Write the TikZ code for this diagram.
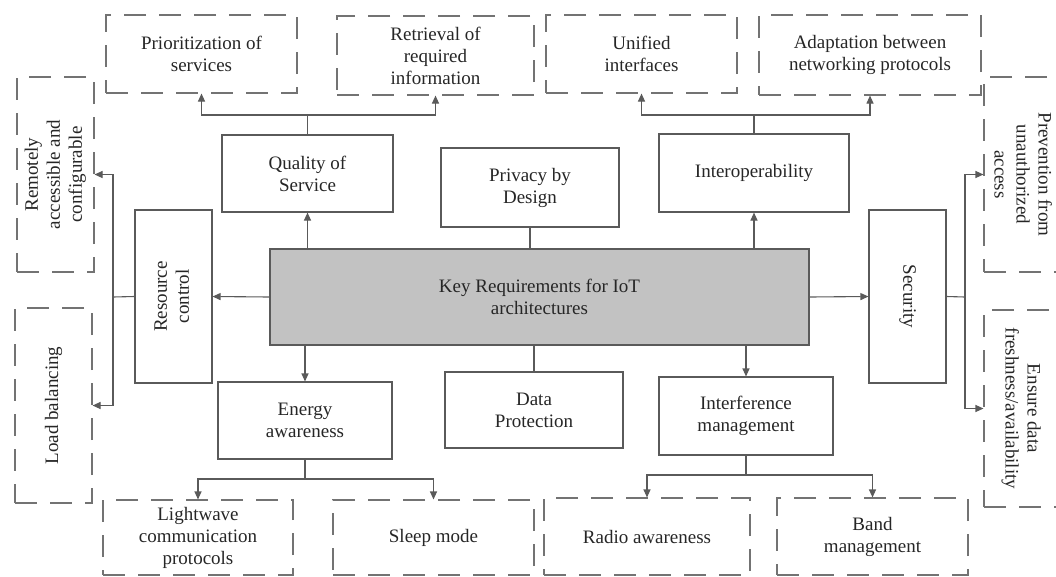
\documentclass[tikz,border=0pt]{standalone}
\usepackage{fontspec}
\setmainfont{Liberation Serif}
\usetikzlibrary{arrows.meta}
\definecolor{ln}{HTML}{5A5A5A}
\definecolor{tx}{HTML}{262626}
\definecolor{keyfill}{HTML}{C2C2C2}
\begin{document}
\begin{tikzpicture}[x=1pt,y=-1pt,
  every node/.style={font=\fontsize{19}{22}\selectfont, text=tx, inner sep=0pt, align=center},
  solidbox/.style={draw=ln, line width=1.1pt, fill=white},
  dashbox/.style={draw=ln!85, line width=1.1pt, dash pattern=on 22pt off 13pt},
  conn/.style={draw=ln, line width=1.1pt},
  arr/.style={conn, -{Triangle[length=8pt,width=7pt]}}]
\useasboundingbox (0,0) rectangle (1056,576);
% top dashed boxes
\node[dashbox, minimum width=191, minimum height=78] (prior) at (201.5,54) {Prioritization of\\services};
\node[dashbox, minimum width=197, minimum height=79] (retr) at (435.5,55.5) {Retrieval of\\required\\information};
\node[dashbox, minimum width=191, minimum height=78] (unif) at (641.5,54) {Unified\\interfaces};
\node[dashbox, minimum width=222, minimum height=80] (adapt) at (870,55) {Adaptation between\\networking protocols};
% side dashed boxes
\node[dashbox, minimum width=77, minimum height=195] (remote) at (55.5,174.5) {\rotatebox{90}{\begin{tabular}{@{}c@{}}Remotely\\accessible and\\configurable\end{tabular}}};
\node[dashbox, minimum width=77, minimum height=195] (load) at (53.5,405.5) {\rotatebox{90}{Load balancing}};
\node[dashbox, minimum width=74, minimum height=195] (prev) at (1021,174.5) {\rotatebox{-90}{\begin{tabular}{@{}c@{}}Prevention from\\unauthorized\\access\end{tabular}}};
\node[dashbox, minimum width=74, minimum height=197] (ens) at (1021,408.5) {\rotatebox{-90}{\begin{tabular}{@{}c@{}}Ensure data\\freshness/availability\end{tabular}}};
% bottom dashed boxes
\node[dashbox, minimum width=190, minimum height=75] (light) at (198,537.5) {Lightwave\\communication\\protocols};
\node[dashbox, minimum width=201, minimum height=75] (sleep) at (433.5,537.5) {Sleep mode};
\node[dashbox, minimum width=206, minimum height=77] (radio) at (647,536.5) {Radio awareness};
\node[dashbox, minimum width=191, minimum height=77] (band) at (872.5,536.5) {Band\\management};
% solid boxes
\node[solidbox, minimum width=171, minimum height=77] (qos) at (307.5,173.5) {Quality of\\Service};
\node[solidbox, minimum width=178, minimum height=79] (priv) at (530,187.5) {Privacy by\\Design};
\node[solidbox, minimum width=190, minimum height=78] (interop) at (754,173) {Interoperability};
\node[solidbox, minimum width=77, minimum height=173] (res) at (173.5,296.5) {\rotatebox{90}{\begin{tabular}{@{}c@{}}Resource\\control\end{tabular}}};
\node[solidbox, minimum width=77, minimum height=173] (sec) at (907.5,296.5) {\rotatebox{-90}{Security}};
\node[solidbox, fill=keyfill, minimum width=539, minimum height=96] (key) at (539.5,297) {Key Requirements for IoT\\architectures};
\node[solidbox, minimum width=174, minimum height=77] (energy) at (305,420.5) {Energy\\awareness};
\node[solidbox, minimum width=178, minimum height=76] (data) at (534,410) {Data\\Protection};
\node[solidbox, minimum width=174, minimum height=78] (interf) at (746,416) {Interference\\management};
% branch points
\coordinate (qb) at (307.5,115);
\coordinate (ob) at (754,115);
\coordinate (lb) at (113,297);
\coordinate (rb) at (965,297);
\coordinate (eb) at (305,479);
\coordinate (ib) at (746,475);
% connectors
\draw[arr] (qos.south |- key.north) -- (qos.south);
\draw[conn] (qos.north) -- (qb);
\draw[arr] (qb) -| (prior.south);
\draw[arr] (qb) -| (retr.south);
\draw[arr] (interop.south |- key.north) -- (interop.south);
\draw[conn] (interop.north) -- (ob);
\draw[arr] (ob) -| (unif.south);
\draw[arr] (ob) -| (adapt.south);
\draw[conn] (priv.south) -- (priv.south |- key.north);
\draw[conn] (data.north |- key.south) -- (data.north);
\draw[arr] (key.west) -- (res.east);
\draw[conn] (res.west) -- (lb);
\draw[arr] (lb) |- (remote.east);
\draw[arr] (lb) |- (load.east);
\draw[arr] (key.east) -- (sec.west);
\draw[conn] (sec.east) -- (rb);
\draw[arr] (rb) |- (prev.west);
\draw[arr] (rb) |- (ens.west);
\draw[arr] (energy.north |- key.south) -- (energy.north);
\draw[conn] (energy.south) -- (eb);
\draw[arr] (eb) -| (light.north);
\draw[arr] (eb) -| (sleep.north);
\draw[arr] (interf.north |- key.south) -- (interf.north);
\draw[conn] (interf.south) -- (ib);
\draw[arr] (ib) -| (radio.north);
\draw[arr] (ib) -| (band.north);
\end{tikzpicture}
\end{document}
